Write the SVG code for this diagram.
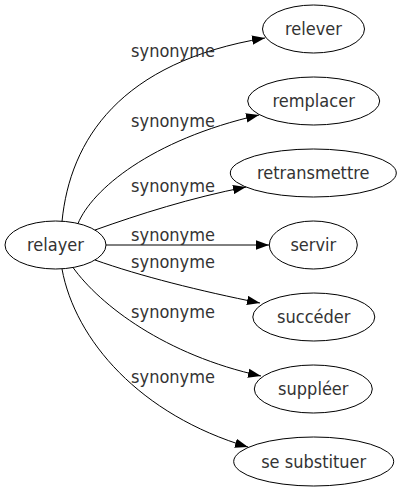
<svg xmlns="http://www.w3.org/2000/svg" width="402" height="491" viewBox="0 0 402 491">
<style>
text{font-family:'DejaVu Sans Condensed','DejaVu Sans',sans-serif;font-stretch:condensed;font-size:18px;fill:#333;text-anchor:middle}
.n ellipse{fill:none;stroke:#000;stroke-width:1}
.e path{fill:none;stroke:#000;stroke-width:1}
</style>
<defs>
<marker id="a" markerUnits="userSpaceOnUse" viewBox="0 0 13 10" refX="13" refY="5" markerWidth="13" markerHeight="10" orient="auto">
<path d="M0,0.3 L13,5 L0,9.7 z" fill="#000"/>
</marker>
</defs>
<rect width="402" height="491" fill="#fff"/>
<g id="edges" class="e">
<path marker-end="url(#a)" d="M62,221.5 C70,140 120,62 265,38"/>
<path marker-end="url(#a)" d="M78,223.5 C92,190 150,140 259,115"/>
<path marker-end="url(#a)" d="M95,230 C140,214 190,198 246,187"/>
<path marker-end="url(#a)" d="M106,245 L269,245"/>
<path marker-end="url(#a)" d="M95,260 C140,276 200,291 260,303"/>
<path marker-end="url(#a)" d="M73,267.5 C100,305 165,355 261,376"/>
<path marker-end="url(#a)" d="M62,269 C75,340 140,415 248,447"/>
<g id="labels">
<text x="173" y="56.5">synonyme</text>
<text x="173" y="127">synonyme</text>
<text x="173" y="192">synonyme</text>
<text x="173" y="240.7">synonyme</text>
<text x="173" y="268.3">synonyme</text>
<text x="173" y="318">synonyme</text>
<text x="173" y="383">synonyme</text>
</g>
</g>
<g id="relayer" class="n"><ellipse cx="55.5" cy="245" rx="50.5" ry="24"/><text x="55.5" y="251">relayer</text></g>
<g id="relever" class="n"><ellipse cx="313.5" cy="29" rx="51" ry="24"/><text x="313.5" y="35">relever</text></g>
<g id="remplacer" class="n"><ellipse cx="313.7" cy="101" rx="66" ry="24"/><text x="313.7" y="107">remplacer</text></g>
<g id="retransmettre" class="n"><ellipse cx="313.3" cy="173" rx="83" ry="24"/><text x="313.3" y="179">retransmettre</text></g>
<g id="servir" class="n"><ellipse cx="313.3" cy="245" rx="44" ry="24"/><text x="313.3" y="251">servir</text></g>
<g id="succeder" class="n"><ellipse cx="313.8" cy="317" rx="61" ry="24"/><text x="313.8" y="323">succéder</text></g>
<g id="suppleer" class="n"><ellipse cx="313.3" cy="389" rx="59" ry="24"/><text x="313.3" y="395">suppléer</text></g>
<g id="se_substituer" class="n"><ellipse cx="313.7" cy="461.5" rx="80" ry="24.5"/><text x="313.7" y="467.5">se substituer</text></g>
</svg>
